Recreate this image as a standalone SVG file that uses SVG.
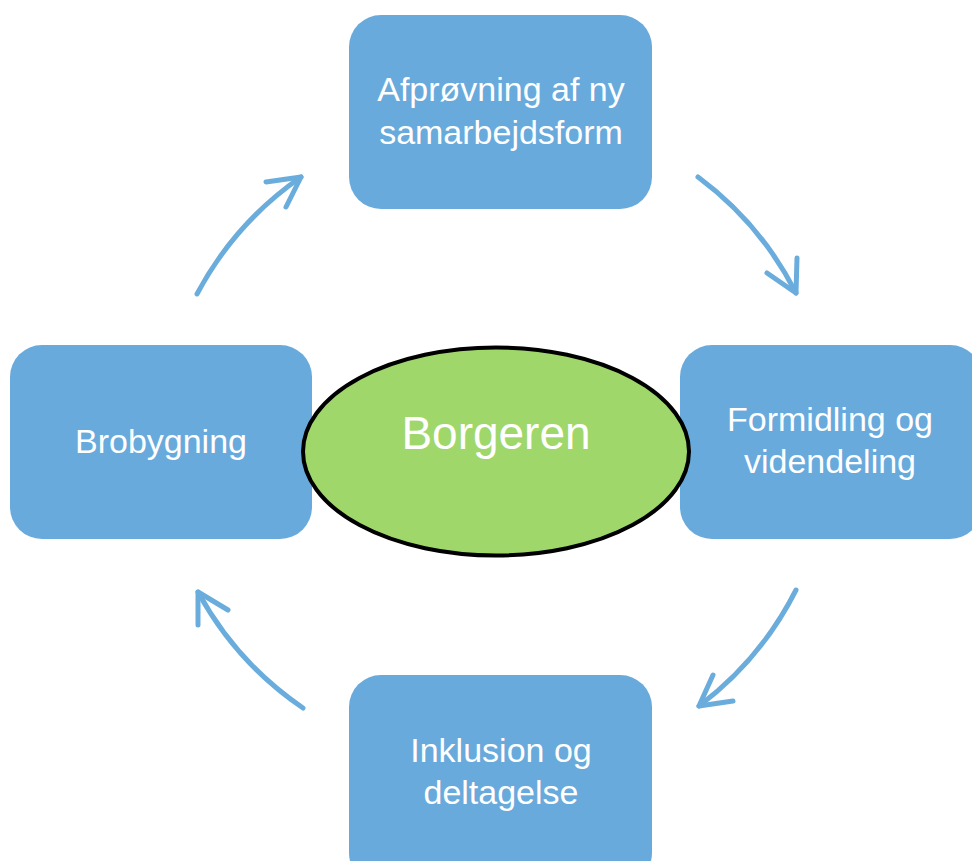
<svg xmlns="http://www.w3.org/2000/svg" width="972" height="861" viewBox="0 0 972 861">
<style>
.box{fill:#68aadc;}
.lbl{font-family:"Liberation Sans",Arial,sans-serif;font-size:34px;fill:#ffffff;text-anchor:middle;}
.arr{fill:none;stroke:#6aaddd;stroke-width:5;stroke-linecap:round;stroke-linejoin:round;}
</style>
<rect width="972" height="861" fill="#ffffff"/>
<g id="connectors">
<path class="arr" d="M197,294 A333,333 0 0 1 301,177"/>
<polyline class="arr" points="266,182 301,177 286,207"/>
<path class="arr" d="M698,177 A333,333 0 0 1 796,293"/>
<polyline class="arr" points="767,273 796,293 797,258"/>
<path class="arr" d="M796,590 A333,333 0 0 1 699,706"/>
<polyline class="arr" points="713,675 699,706 733,701"/>
<path class="arr" d="M303,708 A333,333 0 0 1 198,592"/>
<polyline class="arr" points="198,625 198,592 228,610"/>
</g>
<g id="node-top">
<rect class="box" x="349" y="15" width="303" height="194" rx="32"/>
<text class="lbl" x="501" y="101">Afprøvning af ny</text>
<text class="lbl" x="501" y="144">samarbejdsform</text>
</g>
<g id="node-left">
<rect class="box" x="10" y="345" width="302" height="194" rx="32"/>
<text class="lbl" x="161" y="453">Brobygning</text>
</g>
<g id="node-right">
<rect class="box" x="680" y="345" width="302" height="194" rx="32"/>
<text class="lbl" x="830" y="431">Formidling og</text>
<text class="lbl" x="830" y="473">videndeling</text>
</g>
<g id="node-bottom">
<rect class="box" x="349" y="675" width="303" height="210" rx="32"/>
<text class="lbl" x="501" y="762">Inklusion og</text>
<text class="lbl" x="501" y="804">deltagelse</text>
</g>
<g id="node-center">
<ellipse cx="496" cy="451.5" rx="193" ry="104" fill="#9fd76b" stroke="#000000" stroke-width="4"/>
<text x="496" y="449" font-family="'Liberation Sans',Arial,sans-serif" font-size="46" fill="#ffffff" text-anchor="middle">Borgeren</text>
</g>
</svg>
